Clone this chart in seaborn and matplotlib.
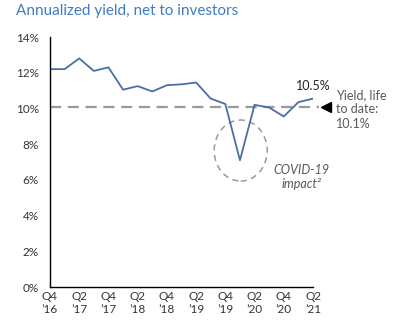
import matplotlib
matplotlib.use("Agg")
import matplotlib.pyplot as plt
import seaborn as sns
import pandas as pd
from matplotlib.patches import Ellipse

quarters = ["Q4 '16","Q1 '17","Q2 '17","Q3 '17","Q4 '17","Q1 '18","Q2 '18","Q3 '18","Q4 '18",
            "Q1 '19","Q2 '19","Q3 '19","Q4 '19","Q1 '20","Q2 '20","Q3 '20","Q4 '20","Q1 '21","Q2 '21"]
yield_pct = [12.2, 12.2, 12.8, 12.1, 12.3, 11.05, 11.25, 10.95, 11.3, 11.35, 11.45, 10.55, 10.25,
             7.1, 10.2, 10.05, 9.55, 10.35, 10.55]
life_to_date = 10.1
tick_labels = ["Q4\n\u201916", "Q2\n\u201917", "Q4\n\u201917", "Q2\n\u201918", "Q4\n\u201918",
               "Q2\n\u201919", "Q4\n\u201919", "Q2\n\u201920", "Q4\n\u201920", "Q2\n\u201921"]
y_ticks = [0, 2, 4, 6, 8, 10, 12, 14]

sns.set_style("white")
plt.rcParams['font.family'] = ['Lato', 'DejaVu Sans']

df = pd.DataFrame({"i": range(len(quarters)), "y": yield_pct})

fig = plt.figure(figsize=(3.97, 3.25), dpi=100)
ax = fig.add_axes([50/397, 38/325, 263/397, 250/325])
sns.lineplot(data=df, x="i", y="y", ax=ax, color="#4a6fa5", linewidth=1.3)

ax.set_xlim(0, len(quarters) - 1)
ax.set_ylim(0, 14)
ax.set_xticks(range(0, len(quarters), 2))
ax.set_xticklabels(tick_labels, fontsize=8.5, color="#333333", linespacing=1.25)
ax.set_yticks(y_ticks)
ax.set_yticklabels([f"{v}%" for v in y_ticks], fontsize=8.5, color="#333333")
ax.tick_params(axis="both", length=0)
ax.tick_params(axis="y", pad=8)
ax.tick_params(axis="x", pad=3)
ax.set_xlabel("")
ax.set_ylabel("")
for s in ["top", "right"]:
    ax.spines[s].set_visible(False)
for s in ["left", "bottom"]:
    ax.spines[s].set_color("black")
    ax.spines[s].set_linewidth(1.0)

# life to date dashed line
ax.plot([0, 18.4], [life_to_date, life_to_date], ls=(0, (5, 3)), color="#999999",
        lw=1.6, clip_on=False, zorder=1)
ax.plot([18.9], [life_to_date], marker="<", color="black", markersize=7, clip_on=False)
ax.text(19.6, 9.95, "Yield, life\nto date:\n10.1%", fontsize=9, color="#595959",
        va="center", ha="left", linespacing=1.25, clip_on=False)

ax.text(18.0, 11.25, "10.5%", fontsize=9, color="#222222", ha="center", va="center", clip_on=False)

ell = Ellipse((13.05, 7.64), 3.63, 3.42, fill=False, ls=(0, (4, 3)), edgecolor="#999999", lw=1.1)
ax.add_patch(ell)
ax.text(17.2, 6.16, "COVID-19\nimpact\u00b2", fontsize=9, color="#595959", style="italic",
        ha="center", va="center", linespacing=1.3)

fig.text(16/397, 1 - 11/325, "Annualized yield, net to investors", fontsize=11,
         color="#3f7cbf", ha="left", va="center")

fig.savefig("out.png", dpi=100)
